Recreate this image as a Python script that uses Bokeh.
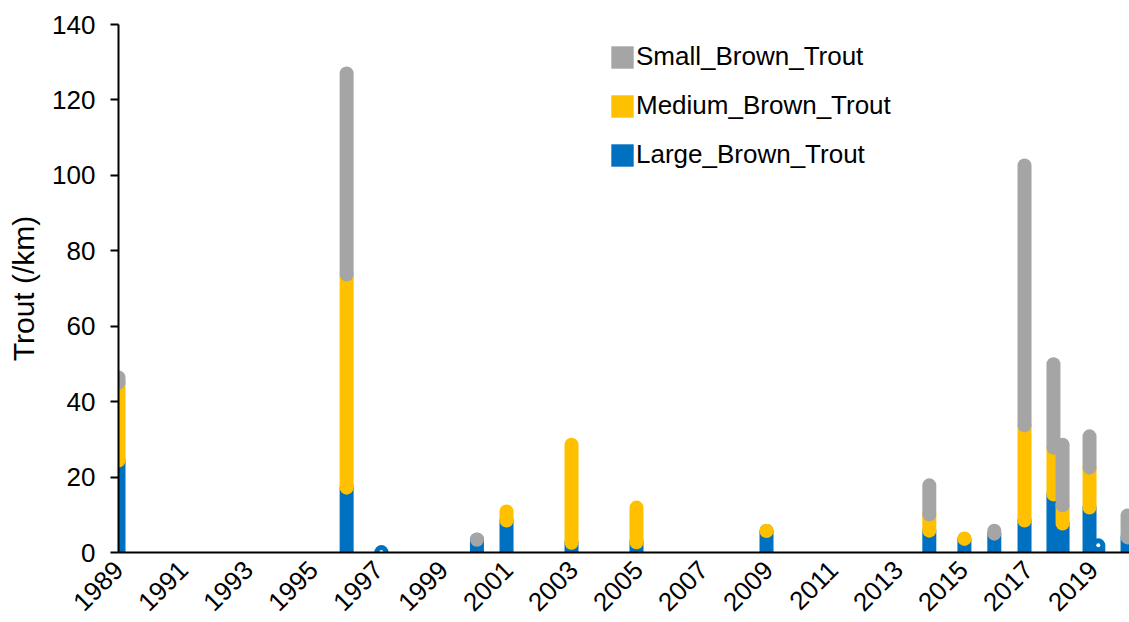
from math import pi

import numpy as np
from bokeh.embed import file_html
from bokeh.models import ColumnDataSource, FixedTicker, Legend, LegendItem, Range1d
from bokeh.plotting import figure
from bokeh.resources import INLINE

# Survey dates (decimal years) and brown trout densities per km by size class
survey_dates = [1989.00, 1996.02, 1997.09, 2000.03, 2000.94, 2002.94, 2004.94,
                2008.94, 2013.95, 2015.03, 2015.95, 2016.88, 2017.77, 2018.05,
                2018.88, 2019.15, 2020.05]
large_brown_trout = [24.4, 17.2, 0.1, 3.4, 8.5, 2.6, 2.7,
                     5.7, 5.8, 3.6, 5.0, 8.5, 15.4, 7.7,
                     11.9, 1.9, 4.0]
medium_brown_trout = [20.6, 56.5, 0.0, 0.0, 2.4, 26.0, 9.2,
                      0.1, 4.3, 0.1, 0.0, 25.2, 12.4, 4.8,
                      10.6, 0.0, 0.0]
small_brown_trout = [1.4, 53.3, 0.0, 0.05, 0.0, 0.0, 0.0,
                     0.0, 7.7, 0.0, 0.8, 68.9, 22.1, 16.1,
                     8.3, 0.0, 5.8]

series_names = ["Large_Brown_Trout", "Medium_Brown_Trout", "Small_Brown_Trout"]
series_colors = ["#0070C0", "#FFC000", "#A5A5A5"]
year_ticks = list(range(1989, 2021, 2))
y_ticks = list(range(0, 141, 20))

FONT = "Liberation Sans"

p = figure(width=1129, height=622, output_backend="svg", toolbar_location=None,
           x_range=Range1d(1989.0, 2020.11), y_range=Range1d(0, 140),
           min_border_left=118, min_border_right=0, min_border_top=24,
           min_border_bottom=70)
p.background_fill_color = "white"
p.border_fill_color = "white"
p.outline_line_color = None
p.grid.visible = False

# Stacked columns drawn as thick round-capped segments, bottom class first
dates = np.array(survey_dates)
base = np.zeros(len(dates))
for i, (vals, color) in enumerate(zip(
        [large_brown_trout, medium_brown_trout, small_brown_trout], series_colors)):
    vals = np.array(vals)
    top = base + vals
    keep = vals > 0
    src = ColumnDataSource(dict(x=dates[keep], y0=base[keep], y1=top[keep]))
    p.segment(x0="x", y0="y0", x1="x", y1="y1", source=src,
              line_color=color, line_width=14, line_cap="round")
    if i == 0:
        # small point markers on the large-trout tops (hidden where stacked over)
        p.scatter(x=dates[keep], y=top[keep], marker="circle", size=4,
                  fill_color="white", line_color=None)
    base = top

# Legend swatches (placeholder quads that draw nothing in the plot area)
swatches = {}
for name, color in zip(series_names, series_colors):
    swatches[name] = p.quad(left=[np.nan], right=[np.nan], top=[np.nan],
                            bottom=[np.nan], fill_color=color, line_color=None)

legend = Legend(items=[LegendItem(label=n, renderers=[swatches[n]])
                       for n in reversed(series_names)],
                location=(490, 382), orientation="vertical",
                glyph_width=28, glyph_height=28, label_standoff=0,
                spacing=18, padding=0, margin=0,
                label_text_font=FONT, label_text_font_size="26px",
                label_text_color="black", label_height=28,
                border_line_color=None, background_fill_alpha=0)
p.add_layout(legend)

# Axes
xa = p.xaxis[0]
xa.ticker = FixedTicker(ticks=year_ticks)
xa.major_label_overrides = {y: str(y) for y in year_ticks}
xa.major_label_orientation = pi / 4
xa.major_tick_out = 0
xa.major_tick_in = 0
xa.minor_tick_line_color = None
xa.axis_line_color = "black"
xa.axis_line_width = 2
xa.major_label_text_font = FONT
xa.major_label_text_font_size = "26px"
xa.major_label_text_color = "black"
xa.major_label_standoff = 13

ya = p.yaxis[0]
ya.ticker = FixedTicker(ticks=y_ticks)
ya.major_tick_out = 8
ya.major_tick_in = 0
ya.major_tick_line_width = 2
ya.major_tick_line_color = "black"
ya.minor_tick_line_color = None
ya.axis_line_color = "black"
ya.axis_line_width = 2
ya.major_label_text_font = FONT
ya.major_label_text_font_size = "26px"
ya.major_label_text_color = "black"
ya.major_label_standoff = 15
ya.axis_label = "Trout (/km)"
ya.axis_label_text_font = FONT
ya.axis_label_text_font_size = "30px"
ya.axis_label_text_font_style = "normal"
ya.axis_label_text_color = "black"
ya.axis_label_standoff = 9

open("out.html", "w").write(file_html(p, INLINE))
